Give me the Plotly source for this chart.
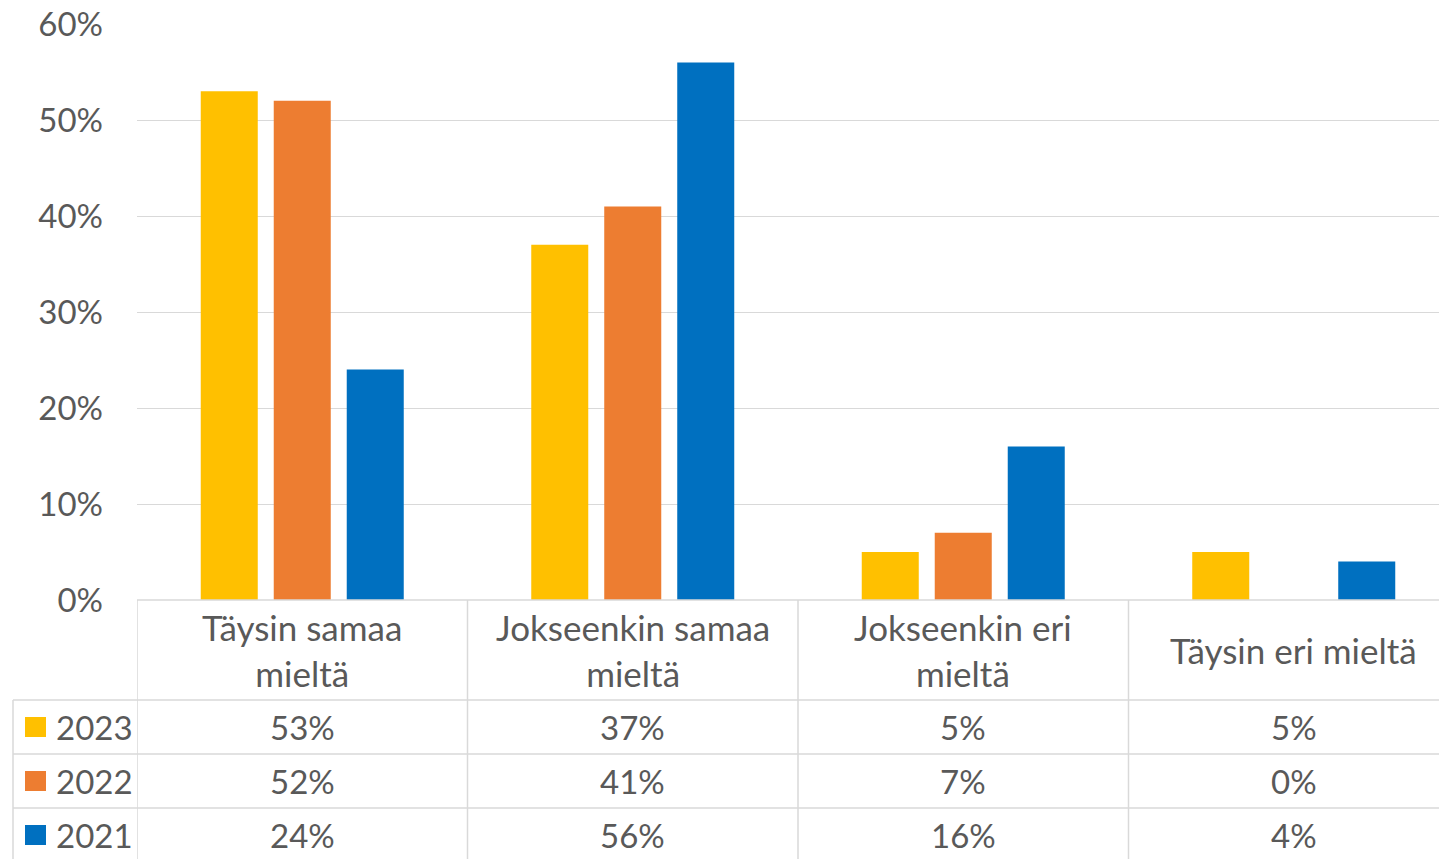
import plotly.graph_objects as go

categories = ["Täysin samaa<br>mieltä", "Jokseenkin samaa<br>mieltä", "Jokseenkin eri<br>mieltä", "Täysin eri mieltä"]
years = ["2023", "2022", "2021"]
v2023 = [53, 37, 5, 5]
v2022 = [52, 41, 7, 0]
v2021 = [24, 56, 16, 4]
series = [v2023, v2022, v2021]
colors = ["#FFC000", "#ED7D31", "#0070C0"]
ytick_vals = [0, 10, 20, 30, 40, 50, 60]

W, H = 1439, 859
TXT = "#595959"
GRID = "#D9D9D9"
FONT = "Lato"
FS_NUM = 33
FS_TXT = 35


def px(p):
    return p / W


def py(p):
    return 1 - p / H


xpos = list(range(len(categories)))
fig = go.Figure()
for name, vals, col in zip(years, series, colors):
    fig.add_trace(go.Bar(x=xpos, y=vals, name=name, marker=dict(color=col, line=dict(width=0)),
                         showlegend=False, hoverinfo="skip"))

fig.update_layout(
    template="none",
    width=W, height=H,
    margin=dict(l=0, r=0, t=0, b=0, pad=0),
    paper_bgcolor="white", plot_bgcolor="white",
    barmode="group", bargap=0.3374, bargroupgap=0.219,
    font=dict(family=FONT, size=FS_NUM, color=TXT),
    xaxis=dict(domain=[px(137), 1], range=[-0.5, 3.4395], showticklabels=False, automargin=False,
               showgrid=False, zeroline=False, showline=False, ticks="", fixedrange=True),
    yaxis=dict(domain=[py(600), py(24)], range=[0, 60], tickmode="array", tickvals=ytick_vals,
               ticktext=[f"{v}%" for v in ytick_vals], automargin=False, ticks="",
               showgrid=True, gridcolor=GRID, gridwidth=1.3, zeroline=False, showline=False,
               ticklabelstandoff=33, tickfont=dict(family=FONT, size=FS_NUM, color=TXT), fixedrange=True),
)

shapes = []
line = dict(color=GRID, width=1.5)
# table top border (x-axis)
shapes.append(dict(type="line", xref="paper", yref="paper", x0=px(137), x1=1, y0=py(600), y1=py(600), line=line))
# column separators
for b in [-0.5, 0.5, 1.5, 2.5]:
    shapes.append(dict(type="line", xref="x", yref="paper", x0=b, x1=b, y0=py(600), y1=0, line=line))
# row separators
for yy in [700, 754, 808]:
    shapes.append(dict(type="line", xref="paper", yref="paper", x0=px(13), x1=1, y0=py(yy), y1=py(yy), line=line))
# left border
shapes.append(dict(type="line", xref="paper", yref="paper", x0=px(13), x1=px(13), y0=py(700), y1=0, line=line))

annotations = []
for i, cat in enumerate(categories):
    annotations.append(dict(x=i, y=py(650), xref="x", yref="paper", text=cat, showarrow=False,
                            xanchor="center", yanchor="middle", font=dict(family=FONT, size=FS_TXT, color=TXT)))

row_centers = [727, 781, 835]
for name, vals, col, rc in zip(years, series, colors, row_centers):
    shapes.append(dict(type="rect", xref="paper", yref="paper", x0=px(25), x1=px(46),
                       y0=py(rc + 10), y1=py(rc - 10), fillcolor=col, line=dict(width=0)))
    annotations.append(dict(x=px(54), y=py(rc), xref="paper", yref="paper", text=name, showarrow=False,
                            xanchor="left", yanchor="middle", font=dict(family=FONT, size=FS_NUM, color=TXT)))
    for i, v in enumerate(vals):
        annotations.append(dict(x=i, y=py(rc), xref="x", yref="paper", text=f"{v}%", showarrow=False,
                                xanchor="center", yanchor="middle", font=dict(family=FONT, size=FS_NUM, color=TXT)))

fig.update_layout(shapes=shapes, annotations=annotations)
fig.write_html("out.html", config={"displayModeBar": False},
               post_script="document.body.style.margin='0';document.body.style.overflow='hidden';")
